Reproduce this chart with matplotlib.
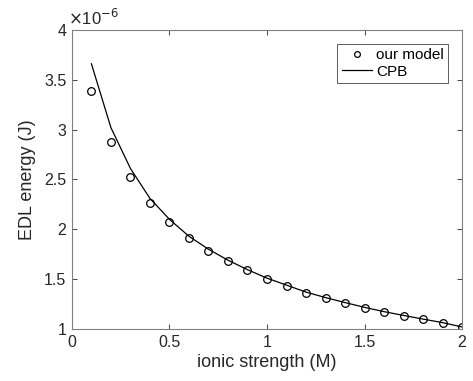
import matplotlib
matplotlib.use("Agg")
import matplotlib.pyplot as plt
import numpy as np

plt.rcParams['font.family'] = ['Liberation Sans', 'DejaVu Sans']

ionic = [0.1, 0.2, 0.3, 0.4, 0.5, 0.6, 0.7, 0.8, 0.9, 1.0,
         1.1, 1.2, 1.3, 1.4, 1.5, 1.6, 1.7, 1.8, 1.9, 2.0]
our_model = [3.39, 2.873, 2.523, 2.267, 2.073, 1.913, 1.783, 1.677, 1.587, 1.503,
             1.433, 1.363, 1.31, 1.26, 1.213, 1.17, 1.135, 1.097, 1.063, 1.015]
cpb = [3.66, 3.02, 2.61, 2.31, 2.10, 1.93, 1.80, 1.69, 1.595, 1.51,
       1.44, 1.37, 1.315, 1.265, 1.217, 1.174, 1.136, 1.099, 1.064, 1.02]

ax_col = '#262626'

fig = plt.figure(figsize=(4.73, 3.81), dpi=100)
ax = fig.add_axes([0.152, 0.1365, 0.825, 0.785])

ax.plot(ionic, np.array(our_model) * 1e-6, 'o', mfc='none', mec='black',
        ms=5.5, mew=0.9, label='our model')
ax.plot(ionic, np.array(cpb) * 1e-6, '-', color='black', lw=0.9, label='CPB')

ax.set_xlim(0, 2)
ax.set_ylim(1e-6, 4e-6)
ax.set_xticks([0, 0.5, 1, 1.5, 2])
ax.set_xticklabels(['0', '0.5', '1', '1.5', '2'])
yt = [1, 1.5, 2, 2.5, 3, 3.5, 4]
ax.set_yticks(np.array(yt) * 1e-6)
ax.set_yticklabels(['1', '1.5', '2', '2.5', '3', '3.5', '4'])
ax.text(-0.01, 1.005, r'$\times$10$^{-6}$', transform=ax.transAxes,
        fontsize=12, ha='left', va='bottom', color=ax_col)

ax.tick_params(direction='in', top=True, right=True, labelsize=11.5,
               colors=ax_col, length=3.5, width=0.6, pad=4)
for s in ax.spines.values():
    s.set_color('#808080')
    s.set_linewidth(0.8)

ax.set_xlabel('ionic strength (M)', fontsize=13, color=ax_col, labelpad=3)
ax.set_ylabel('EDL energy (J)', fontsize=13, color=ax_col, labelpad=6)

leg = ax.legend(loc='upper right', fontsize=11, frameon=True, fancybox=False,
                edgecolor='#333333', borderpad=0.3, handlelength=2.0,
                handletextpad=0.25, borderaxespad=0.9, labelspacing=0.15,
                markerscale=0.75)
leg.get_frame().set_linewidth(0.7)

fig.savefig('out.png', dpi=100)
